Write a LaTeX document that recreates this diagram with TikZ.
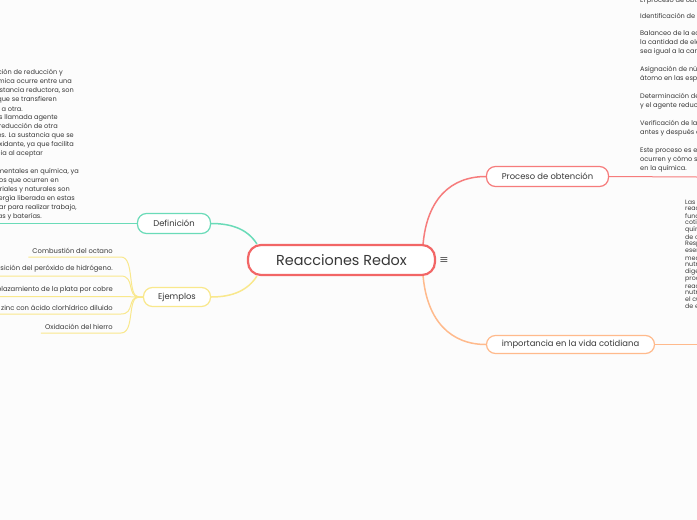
\documentclass[tikz,border=0pt]{standalone}
\usepackage{fontspec}
\setmainfont{Poppins}
\newfontfamily\symfont{DejaVu Sans}
\usetikzlibrary{positioning,backgrounds}
\definecolor{paper}{HTML}{FCFCFC}
\definecolor{inkgray}{HTML}{383838}
\definecolor{symgray}{HTML}{555555}
\definecolor{redoxred}{HTML}{F26666}
\definecolor{procred}{HTML}{F67C7C}
\definecolor{impoorange}{HTML}{FFBA8C}
\definecolor{defteal}{HTML}{6ADBB8}
\definecolor{ejeyellow}{HTML}{F9E88C}

\begin{document}
\begin{tikzpicture}[x=1pt,y=-1pt,
  topic/.style={draw,fill=white,rounded corners=9pt,line width=1.2pt,inner sep=0pt,
    text=inkgray,font=\fontsize{8.4}{10}\selectfont},
  note/.style={inner sep=0pt,text=inkgray,font=\fontsize{6.6}{7}\selectfont},
  item/.style={inner xsep=4pt,inner ysep=3pt,text=inkgray,font=\fontsize{6.8}{7}\selectfont},
  branch/.style={line width=1.5pt},
  twig/.style={line width=1pt}]

  % Canvas
  \useasboundingbox (0,0) rectangle (697,520);
  \clip (0,0) rectangle (697,520);

  % Central topic
  \node[topic,draw=redoxred,line width=2.2pt,rounded corners=13pt,
    minimum width=187pt,minimum height=30pt,font=\fontsize{14.4}{18}\selectfont]
    (redox) at (341.5,260) {Reacciones Redox};
  \node[text=symgray,font=\symfont\fontsize{11}{11}\selectfont] (menu) at (444,261) {≡};

  % Main topics
  \node[topic,draw=procred,minimum width=122pt,minimum height=20pt] (proc) at (547.5,176.5) {Proceso de obtención};
  \node[topic,draw=impoorange,minimum width=168pt,minimum height=18pt] (impo) at (570.5,344.5) {importancia en la vida cotidiana};
  \node[topic,draw=defteal,minimum width=73pt,minimum height=20pt] (defi) at (174,223.5) {Definición};
  \node[topic,draw=ejeyellow,minimum width=67pt,minimum height=19pt] (ejem) at (177,297) {Ejemplos};

  % Branches from the centre
  \begin{scope}[on background layer]
    \fill[paper] (0,0) rectangle (697,520);
    \draw[branch,procred] ([xshift=-13pt]redox.north east) .. controls +(4,-45) and +(-35,0) .. (proc.west);
    \draw[branch,impoorange] ([xshift=-13pt]redox.south east) .. controls +(4,45) and +(-35,0) .. (impo.west);
    \draw[branch,defteal] ([xshift=10pt]redox.north west) .. controls +(-9,-14) and +(22,0) .. (defi.east);
    \draw[branch,ejeyellow] ([xshift=10pt]redox.south west) .. controls +(-9,14) and +(22,0) .. (ejem.east);
  \end{scope}

  % Underlines of the notes
  \coordinate (procend) at (697,177);
  \coordinate (impoend) at (697,344.5);
  \coordinate (defiend) at (0,223.5);
  \draw[twig,procred] (proc.east) -- (procend);
  \draw[twig,impoorange] (impo.east) -- (impoend);
  \draw[twig,defteal] (defi.west) -- (defiend);

  % Definición (note)
  \foreach \y/\x/\t in {
    73/63/{Una reacción redox es una combinación de reducción y},
    82/72/{oxidación. Es una reacción química ocurre entre una},
    91/74/{sustancia oxidante y una sustancia reductora, son},
    100/57/{reacciones químicas en las que se transfieren},
    109/23/{electrones de una sustancia a otra.},
    118/58/{La sustancia que pierde electrones es llamada agente},
    127/58/{reductor, ya que provoca la reducción de otra},
    136/74/{sustancia al cederle sus electrones. La sustancia que se},
    145/74/{reduce es llamada agente oxidante, ya que facilita},
    154/43/{la oxidación de otra sustancia al aceptar},
    172/79/{Las reacciones redox son fundamentales en química, ya},
    181/59/{que son la base de muchos procesos que ocurren en},
    190/70/{nuestro entorno. Procesos industriales y naturales son},
    199/75/{reacciones redox, y la energía liberada en estas},
    208/77/{reacciones se puede aprovechar para realizar trabajo,},
    217/42/{como en las pilas y baterías.}} {
    \node[note,anchor=east] (defl\y) at (\x,\y) {\t};
  }

  % Proceso de obtención (note)
  \foreach \y/\t in {
    1/{El proceso de obtención incluye:},
    17/{Identificación de los reactivos y productos.},
    34/{Balanceo de la ecuación química, asegurando que},
    43/{la cantidad de electrones perdidos y ganados},
    52/{sea igual a la carga total.},
    70/{Asignación de números de oxidación a cada},
    79/{átomo en las especies químicas.},
    97/{Determinación del agente oxidante},
    106/{y el agente reductor.},
    124/{Verificación de la conservación de la masa y la carga},
    133/{antes y después de la reacción.},
    151/{Este proceso es esencial para comprender cómo},
    160/{ocurren y cómo se aplican las reacciones redox},
    169/{en la química.}} {
    \node[note,anchor=west] (procl\y) at (640,\y) {\t};
  }

  % importancia en la vida cotidiana (note)
  \foreach \t [count=\k from 0] in {
    Las reacciones redox son, reacciones químicas, fundamentales en la vida,
    {cotidiana, ya que están en}, químicos como la, de combustibles.,
    Respiración celular:, esencial para obtener, mediante la oxidación,
    nutrientes. Digestión:, digestión de los, procesos químicos de,
    reacciones redox de los, nutrientes que necesita, el cuerpo para obtener,
    de energía.} {
    \node[note,anchor=west,font=\fontsize{6.3}{7}\selectfont] (impol\k) at (685,202+7*\k) {\t};
  }

  % Ejemplos
  \foreach \n/\y/\t in {
    1/257/{Combustión del octano},
    2/276/{Descomposición del peróxido de hidrógeno.},
    3/296.5/{Desplazamiento de la plata por cobre},
    4/314/{Reacción del zinc con ácido clorhídrico diluido},
    5/333/{Oxidación del hierro}} {
    \node[item,anchor=south east] (ex\n) at (117,\y) {\t};
    \begin{scope}[on background layer]
      \draw[twig,ejeyellow] (ejem.west) -- ++(-4,0) .. controls +(-12,0) and +(14,0) .. ([xshift=4pt]ex\n.south east) -- (ex\n.south west);
    \end{scope}
  }
\end{tikzpicture}
\end{document}
